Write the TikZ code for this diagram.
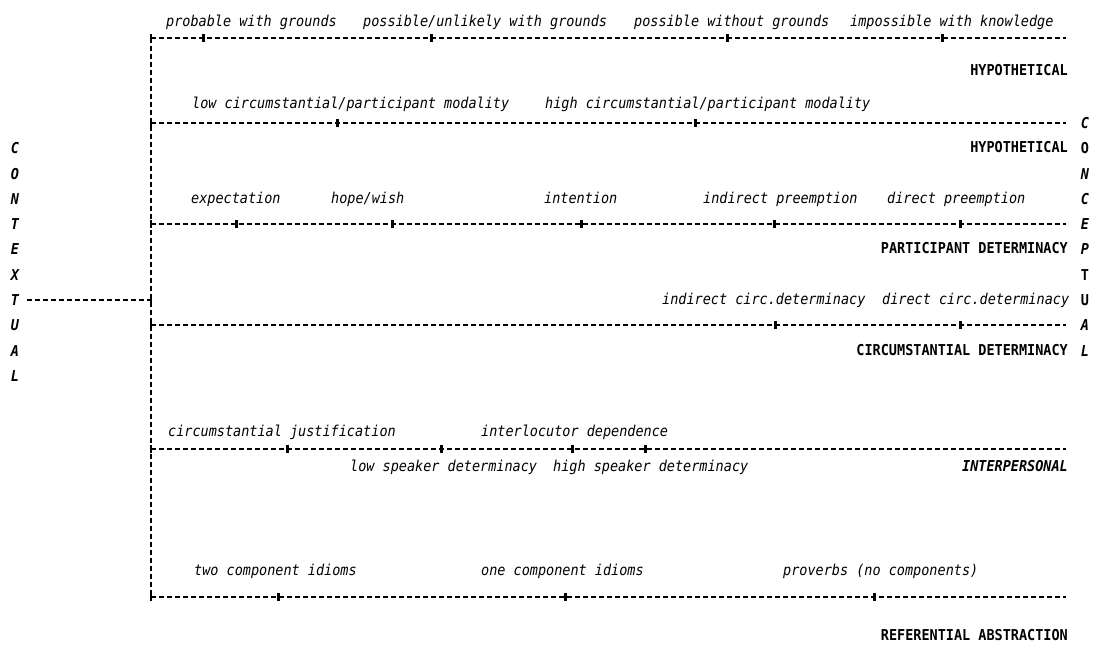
\documentclass[tikz,border=0pt]{standalone}
\usepackage{fontspec}
\setmainfont{DejaVu Sans Mono}[FakeStretch=0.9,
  ItalicFont={DejaVu Sans Mono Oblique},
  BoldFont={DejaVu Sans Mono Bold},
  BoldItalicFont={DejaVu Sans Mono Bold Oblique}]
\begin{document}
\begin{tikzpicture}[x=1pt,y=-1pt,
  lbl/.style={font=\fontsize{15}{15}\selectfont\itshape, anchor=west, inner sep=0pt, text height=11pt, text depth=3pt},
  cat/.style={font=\fontsize{15}{15}\selectfont\bfseries, anchor=east, inner sep=0pt, text height=11pt, text depth=3pt},
  cati/.style={cat, font=\fontsize{15}{15}\selectfont\bfseries\itshape},
  letter/.style={font=\fontsize{15}{15}\selectfont\bfseries\itshape, inner sep=0pt, text height=11pt, text depth=0pt},
  uletter/.style={letter, font=\fontsize{15}{15}\selectfont\bfseries},
  dl/.style={line width=1.1pt, dash pattern=on 5pt off 3pt},
  tick/.style={rectangle, fill=black, draw=none, minimum width=3pt, minimum height=8pt, inner sep=0pt},
  cross/.style={rectangle, fill=black, draw=none, minimum width=1.4pt, minimum height=8pt, inner sep=0pt}]
\useasboundingbox (0,0) rectangle (1097,656);

% ---- vertical axis
\coordinate (vtop) at (151,38);
\coordinate (vbot) at (151,597);
\draw[dl] (vtop) -- (vbot);

% ---- scale lines
\foreach \n/\y in {1/38,2/123,3/224,4/325,5/449,6/597}{
  \coordinate (s\n a) at (151,\y);
  \coordinate (s\n b) at (1066,\y);
  \draw[dl] (s\n a) -- (s\n b);
  \node[cross] (c\n) at (s\n a) {};
}
% contextual branch
\coordinate (tx) at (27,300);
\coordinate (tj) at (151,300);
\draw[dl] (tx) -- (tj);
\node[cross] (cj) at (tj) {};

% ---- marks
\foreach \x [count=\i] in {203,431,727,942}{\node[tick] (m1\i) at (\x,38) {};}
\foreach \x [count=\i] in {337,695}{\node[tick] (m2\i) at (\x,123) {};}
\foreach \x [count=\i] in {236,392,581,774,960}{\node[tick] (m3\i) at (\x,224) {};}
\foreach \x [count=\i] in {775,960}{\node[tick] (m4\i) at (\x,325) {};}
\foreach \x [count=\i] in {287,441,572,645}{\node[tick] (m5\i) at (\x,449) {};}
\foreach \x [count=\i] in {278,565,874}{\node[tick] (m6\i) at (\x,597) {};}

% ---- labels
\node[lbl] (a1) at (166,22) {probable with grounds};
\node[lbl] (a2) at (363,22) {possible/unlikely with grounds};
\node[lbl] (a3) at (634,22) {possible without grounds};
\node[lbl] (a4) at (850,22) {impossible with knowledge};

\node[lbl] (b1) at (192,104) {low circumstantial/participant modality};
\node[lbl] (b2) at (545,104) {high circumstantial/participant modality};

\node[lbl] (d1) at (191,199) {expectation};
\node[lbl] (d2) at (331,199) {hope/wish};
\node[lbl] (d3) at (544,199) {intention};
\node[lbl] (d4) at (703,199) {indirect preemption};
\node[lbl] (d5) at (887,199) {direct preemption};

\node[lbl] (e1) at (662,300) {indirect circ.determinacy};
\node[lbl] (e2) at (882,300) {direct circ.determinacy};

\node[lbl] (f1) at (168,432) {circumstantial justification};
\node[lbl] (f2) at (481,432) {interlocutor dependence};

\node[lbl] (g1) at (350,467) {low speaker determinacy};
\node[lbl] (g2) at (553,467) {high speaker determinacy};

\node[lbl] (h1) at (194,571) {two component idioms};
\node[lbl] (h2) at (481,571) {one component idioms};
\node[lbl] (h3) at (783,571) {proverbs (no components)};

% ---- categories
\node[cat] (k1) at (1068,71) {HYPOTHETICAL};
\node[cat] (k2) at (1068,148) {HYPOTHETICAL};
\node[cat] (k3) at (1068,249) {PARTICIPANT DETERMINACY};
\node[cat] (k4) at (1068,351) {CIRCUMSTANTIAL DETERMINACY};
\node[cati] (k5) at (1068,467) {INTERPERSONAL};
\node[cat] (k6) at (1068,636) {REFERENTIAL ABSTRACTION};

% ---- CONTEXTUAL (left)
\foreach \c/\y [count=\i] in {C/148,O/174,N/199,T/224,E/249,X/275,T/300,U/325,A/351,L/376}{
  \node[letter] (ctx\i) at (15,\y) {\c};
}
% ---- CONCEPTUAL (right)
\node[letter]  (cpt1)  at (1085,123) {C};
\node[uletter] (cpt2)  at (1085,148) {O};
\node[letter]  (cpt3)  at (1085,174) {N};
\node[letter]  (cpt4)  at (1085,199) {C};
\node[letter]  (cpt5)  at (1085,224) {E};
\node[letter]  (cpt6)  at (1085,249) {P};
\node[uletter] (cpt7)  at (1085,275) {T};
\node[uletter] (cpt8)  at (1085,300) {U};
\node[letter]  (cpt9)  at (1085,325) {A};
\node[letter]  (cpt10) at (1085,351) {L};
\end{tikzpicture}
\end{document}
